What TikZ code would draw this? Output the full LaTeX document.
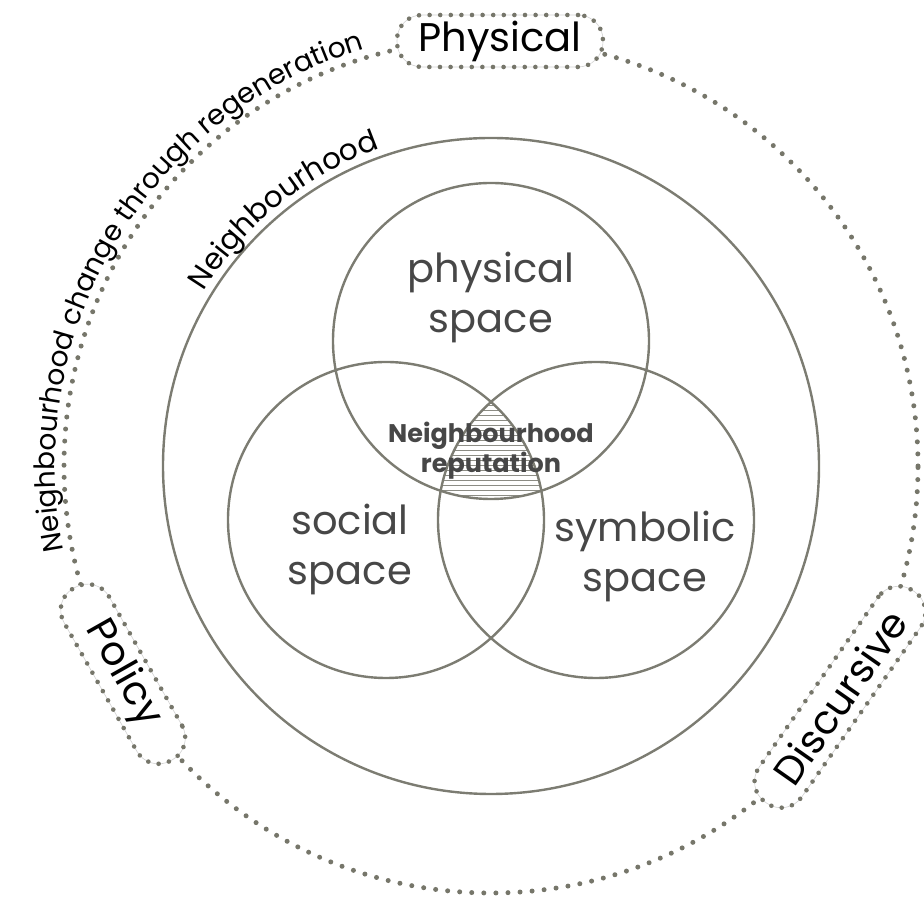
\documentclass[tikz,border=0pt]{standalone}
\usepackage{fontspec}
\setmainfont{Poppins}
\usetikzlibrary{decorations.text}
\definecolor{ringgray}{HTML}{7C7C72}
\definecolor{dotgray}{HTML}{76766A}
\definecolor{boxline}{HTML}{D2D2D2}
\definecolor{textgray}{HTML}{474747}
\definecolor{hatchgray}{HTML}{8C8C84}
\newcommand\outerlbl{\fontsize{28}{28}\selectfont}
\newcommand\innerlbl{\fontsize{29.5}{29.5}\selectfont}
\tikzset{
  ring/.style={draw=ringgray, line width=2.4pt},
  dotring/.style={draw=dotgray, line width=5pt, dash pattern=on 0pt off 12.08pt, line cap=round},
  hatchline/.style={draw=hatchgray, line width=0.8pt},
  spacelbl/.style={font=\fontsize{40}{50}\selectfont, text=textgray, align=center, inner sep=0pt},
  replbl/.style={font=\bfseries\fontsize{25.5}{30}\selectfont, text=textgray, align=center, inner sep=0pt},
  tagbox/.style={draw=boxline, line width=0.6pt, fill=white, rounded corners=25pt, inner sep=0pt,
    minimum height=52pt, font=\fontsize{40}{40}\selectfont,
    postaction={draw=dotgray, line width=4.6pt, dash pattern=on 0pt off 10.6pt, line cap=round}}
}
\begin{document}
\begin{tikzpicture}[x=1pt,y=1pt]
\useasboundingbox (0,0) rectangle (924,899);
\coordinate (C) at (491,433);
\coordinate (P) at (491,558);
\coordinate (S) at (386,379);
\coordinate (Y) at (596,379);
% hatched triple intersection
\begin{scope}
  \clip (P) circle[radius=158];
  \clip (S) circle[radius=158];
  \clip (Y) circle[radius=158];
  \foreach \k in {0,...,20} {\draw[hatchline] (420,{399+5*\k}) -- (560,{399+5*\k});}
\end{scope}
% rings
\draw[dotring] (C) circle[radius=427];
\draw[ring] (C) circle[radius=328];
\draw[ring] (P) circle[radius=158];
\draw[ring] (S) circle[radius=158];
\draw[ring] (Y) circle[radius=158];
% labels
\node[spacelbl] (phystxt) at (491,602) {physical\\space};
\node[spacelbl] (soctxt) at (350,350) {social\\space};
\node[spacelbl] (symtxt) at (645,343) {symbolic\\space};
\node[replbl] (reptxt) at (491,448) {Neighbourhood\\reputation};
% curved texts
\path[decorate, decoration={text along path, text align=center,
  text={|\outerlbl|Neighbourhood change through regeneration}}]
  ([shift={(214:436)}]C) arc[start angle=214, end angle=84, radius=436];
\path[decorate, decoration={text along path, text align=center,
  text={|\innerlbl|Neighbourhood}}]
  ([shift={(169:336)}]C) arc[start angle=169, end angle=89, radius=336];
% dotted tag boxes
\node[tagbox, minimum width=206pt] (physbox) at (500,858) {Physical};
\node[tagbox, minimum width=198pt, rotate=-60.5] (polbox) at (123,225) {Policy};
\node[tagbox, minimum width=258pt, rotate=55] (disbox) at (840,202) {Discursive};
\end{tikzpicture}
\end{document}
